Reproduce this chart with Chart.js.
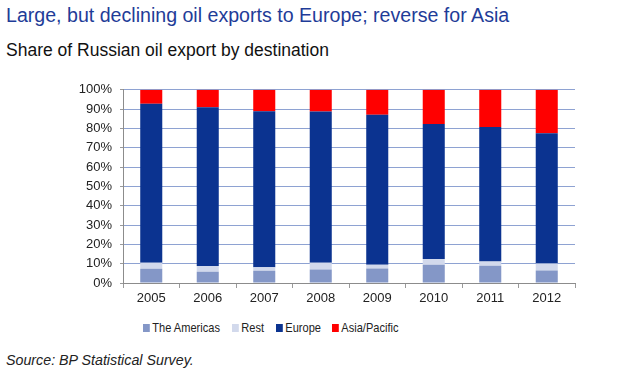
<!DOCTYPE html>
<html>
<head>
<meta charset="utf-8">
<script src="https://cdn.jsdelivr.net/npm/chart.js@4"></script>
<style>
  body { margin: 0; width: 639px; height: 384px; background: #fff; overflow: hidden; position: relative; font-family: "Liberation Sans", Arial, sans-serif; }
  .title { position: absolute; left: 6px; top: 4px; font-size: 19.6px; color: #1f3c98; white-space: nowrap; }
  .subtitle { position: absolute; left: 6px; top: 40px; font-size: 17.5px; color: #111; white-space: nowrap; }
  .source { position: absolute; left: 6px; top: 351px; font-size: 15px; font-style: italic; color: #222; white-space: nowrap; transform: scaleX(0.95); transform-origin: left; }
  #wrap { position: absolute; left: 0; top: 74px; width: 639px; height: 236px; }
  .legend { position: absolute; top: 320px; left: 0; font-size: 13px; color: #222; }
  .legend span.item { position: absolute; white-space: nowrap; line-height: 15px; transform: scaleX(0.85); transform-origin: left; }
  .legend i { display: inline-block; width: 8px; height: 8px; margin-right: 3px; vertical-align: 0px; }
</style>
</head>
<body>
<div class="title">Large, but declining oil exports to Europe; reverse for Asia</div>
<div class="subtitle">Share of Russian oil export by destination</div>
<div id="wrap"><canvas id="myChart" width="639" height="236"></canvas></div>
<div class="legend" id="legend"></div>
<div class="source">Source: BP Statistical Survey.</div>
<script>
  // data (% share)
  const years = ['2005', '2006', '2007', '2008', '2009', '2010', '2011', '2012'];
  const americas = [7.4, 5.8, 6.4, 7.0, 7.5, 9.4, 8.9, 6.5];
  const rest = [3.1, 3.0, 1.7, 3.5, 1.9, 3.0, 2.2, 3.6];
  const europe = [82.3, 82.2, 80.8, 78.3, 77.7, 69.9, 69.6, 67.4];
  const asia = [7.2, 9.0, 11.1, 11.2, 12.9, 17.7, 19.3, 22.5];
  const yTicks = [0, 10, 20, 30, 40, 50, 60, 70, 80, 90, 100];

  const seriesNames = ['The Americas', 'Rest', 'Europe', 'Asia/Pacific'];
  const seriesColors = ['#8497c7', '#d2d9ec', '#0b3390', '#ff0000'];
  const legendX = [143, 232, 276, 332];

  const data = {
    labels: years,
    datasets: [americas, rest, europe, asia].map(function (vals, i) {
      return {
        label: seriesNames[i],
        data: vals,
        backgroundColor: seriesColors[i],
        borderWidth: 0,
        categoryPercentage: 1,
        barPercentage: 0.39
      };
    })
  };

  const config = {
    type: 'bar',
    data: data,
    options: {
      responsive: false,
      animation: false,
      layout: { padding: { left: 0, right: 64, top: 3, bottom: 0 } },
      scales: {
        x: {
          stacked: true,
          grid: { display: true, drawOnChartArea: false, offset: true, tickLength: 5, tickColor: '#9a9a9a' },
          border: { color: '#8c8c8c' },
          ticks: { color: '#222', font: { family: 'Liberation Sans', size: 13 }, padding: 3 },
          afterFit: function (scale) { scale.height = 27; }
        },
        y: {
          stacked: true,
          min: 0,
          max: 100,
          afterBuildTicks: function (scale) { scale.ticks = yTicks.map(v => ({ value: v })); },
          grid: {
            color: function (ctx) { return ctx.tick && ctx.tick.value === 0 ? '#8c8c8c' : '#8ea2d2'; },
            tickColor: '#9a9a9a',
            tickLength: 3
          },
          border: { color: '#8c8c8c' },
          ticks: {
            color: '#222',
            font: { family: 'Liberation Sans', size: 13 },
            padding: 8,
            callback: function (value) { return value + '%'; }
          },
          afterFit: function (scale) { scale.width = 123; }
        }
      },
      plugins: {
        legend: { display: false },
        tooltip: { enabled: false }
      }
    }
  };

  const myChart = new Chart(document.getElementById('myChart'), config);

  // html legend, placed like the original
  const legend = document.getElementById('legend');
  seriesNames.forEach(function (name, i) {
    const item = document.createElement('span');
    item.className = 'item';
    item.style.left = legendX[i] + 'px';
    item.innerHTML = '<i style="background:' + seriesColors[i] + '"></i>' + name;
    legend.appendChild(item);
  });
</script>
</body>
</html>
